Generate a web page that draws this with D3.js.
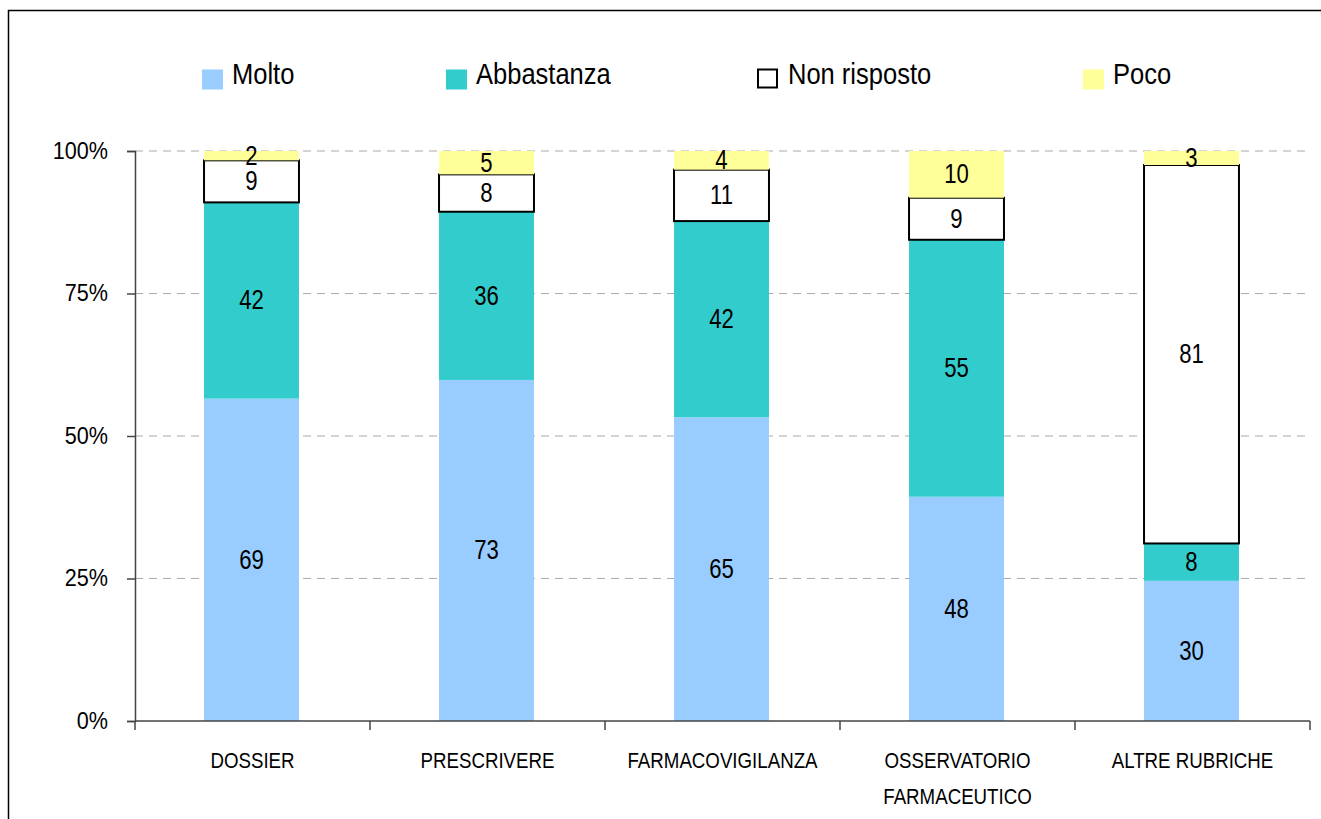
<!DOCTYPE html>
<html>
<head>
<meta charset="utf-8">
<script src="https://cdn.jsdelivr.net/npm/d3@7"></script>
<style>
body { margin: 0; background: #fff; }
text { font-family: "Liberation Sans", Arial, sans-serif; fill: #000; }
</style>
</head>
<body>
<div id="chart"></div>
<script>
var categories = ["DOSSIER", "PRESCRIVERE", "FARMACOVIGILANZA", "OSSERVATORIO FARMACEUTICO", "ALTRE RUBRICHE"];
var seriesNames = ["Molto", "Abbastanza", "Non risposto", "Poco"];
var molto = [69, 73, 65, 48, 30];
var abbastanza = [42, 36, 42, 55, 8];
var nonRisposto = [9, 8, 11, 9, 81];
var poco = [2, 5, 4, 10, 3];
var tickValues = [0, 0.25, 0.5, 0.75, 1];

var colors = {"Molto": "#99ccff", "Abbastanza": "#33cccc", "Non risposto": "#ffffff", "Poco": "#ffff99"};

var width = 1321, height = 819;
var margin = {top: 151, right: 11, bottom: 98, left: 135};

var svg = d3.select("#chart").append("svg")
  .attr("width", width)
  .attr("height", height);

// outer frame
svg.append("rect")
  .attr("x", 8.5).attr("y", 10.5)
  .attr("width", width + 20).attr("height", height + 20)
  .attr("fill", "none").attr("stroke", "#000").attr("stroke-width", 1.5);

var rows = categories.map(function(c, i) {
  return {cat: c, "Molto": molto[i], "Abbastanza": abbastanza[i], "Non risposto": nonRisposto[i], "Poco": poco[i]};
});

var stack = d3.stack().keys(seriesNames).offset(d3.stackOffsetExpand);
var layers = stack(rows);

var x = d3.scaleBand()
  .domain(categories)
  .range([margin.left, width - margin.right])
  .paddingInner(0.596)
  .paddingOuter(0.298);

var y = d3.scaleLinear()
  .domain([0, 1])
  .range([height - margin.bottom, margin.top]);

// narrow text helper (the original uses a condensed face)
function narrow(sel, px, py, sx) {
  sel.attr("x", 0).attr("y", 0)
    .attr("transform", "translate(" + px + "," + py + ") scale(" + sx + ",1)");
}

// gridlines
svg.append("g").selectAll("line")
  .data(tickValues.filter(function(d) { return d > 0; }))
  .enter().append("line")
  .attr("x1", margin.left).attr("x2", width - margin.right)
  .attr("y1", function(d) { return y(d); }).attr("y2", function(d) { return y(d); })
  .attr("stroke", "#aaa").attr("stroke-width", 1)
  .attr("stroke-dasharray", "8,6");

// bars
var g = svg.append("g");
layers.forEach(function(layer) {
  var key = layer.key;
  g.selectAll(null)
    .data(layer)
    .enter().append("rect")
    .attr("x", function(d) { return x(d.data.cat) - 1; })
    .attr("width", x.bandwidth())
    .attr("y", function(d) { return y(d[1]); })
    .attr("height", function(d) { return y(d[0]) - y(d[1]); })
    .attr("fill", colors[key])
    .attr("stroke", key == "Non risposto" ? "#000" : "none")
    .attr("stroke-width", 2);
});

// value labels
layers.forEach(function(layer) {
  var key = layer.key;
  g.selectAll(null)
    .data(layer)
    .enter().append("text")
    .attr("text-anchor", "middle")
    .attr("dy", "0.33em")
    .style("font-size", "27px")
    .text(function(d) { return d.data[key]; })
    .each(function(d) {
      narrow(d3.select(this), x(d.data.cat) + x.bandwidth() / 2 - 1, (y(d[0]) + y(d[1])) / 2, 0.82);
    });
});

// y axis
var yAxis = svg.append("g")
  .attr("transform", "translate(" + margin.left + ",0)")
  .call(d3.axisLeft(y).tickValues(tickValues).tickSize(8)
    .tickFormat(function(d) { return Math.round(d * 100) + "%"; }));
yAxis.selectAll("text")
  .style("font-size", "24px").attr("fill", "#000")
  .attr("dy", "0.3em")
  .each(function() { narrow(d3.select(this), -27, 0, 0.9); });
yAxis.selectAll("line,path").attr("stroke", "#444").attr("stroke-width", 1.5);

// x axis: ticks at band edges
var xAxis = svg.append("g")
  .attr("transform", "translate(0," + (height - margin.bottom) + ")");
xAxis.append("line")
  .attr("x1", margin.left).attr("x2", width - margin.right)
  .attr("stroke", "#444").attr("stroke-width", 1.5);
var step = x.step();
xAxis.selectAll(".edge")
  .data(d3.range(categories.length + 1))
  .enter().append("line")
  .attr("x1", function(i) { return margin.left + i * step; })
  .attr("x2", function(i) { return margin.left + i * step; })
  .attr("y1", 0).attr("y2", 9)
  .attr("stroke", "#444").attr("stroke-width", 1.5);

categories.forEach(function(d) {
  var lines = d == "OSSERVATORIO FARMACEUTICO" ? d.split(" ") : [d];
  lines.forEach(function(w, i) {
    xAxis.append("text")
      .attr("text-anchor", "middle")
      .style("font-size", "22px")
      .text(w)
      .call(narrow, x(d) + x.bandwidth() / 2, 47 + i * 36, 0.85);
  });
});

// legend
var legendX = [202, 446, 758, 1083];
var legend = svg.append("g");
seriesNames.forEach(function(name, i) {
  legend.append("rect")
    .attr("x", legendX[i]).attr("y", 69.5)
    .attr("width", name == "Non risposto" ? 19 : 21)
    .attr("height", name == "Non risposto" ? 18 : 20)
    .attr("fill", colors[name])
    .attr("stroke", name == "Non risposto" ? "#000" : "none")
    .attr("stroke-width", 2);
  legend.append("text")
    .style("font-size", "29px")
    .text(name)
    .call(narrow, legendX[i] + 30, 84, 0.88);
});
</script>
</body>
</html>
